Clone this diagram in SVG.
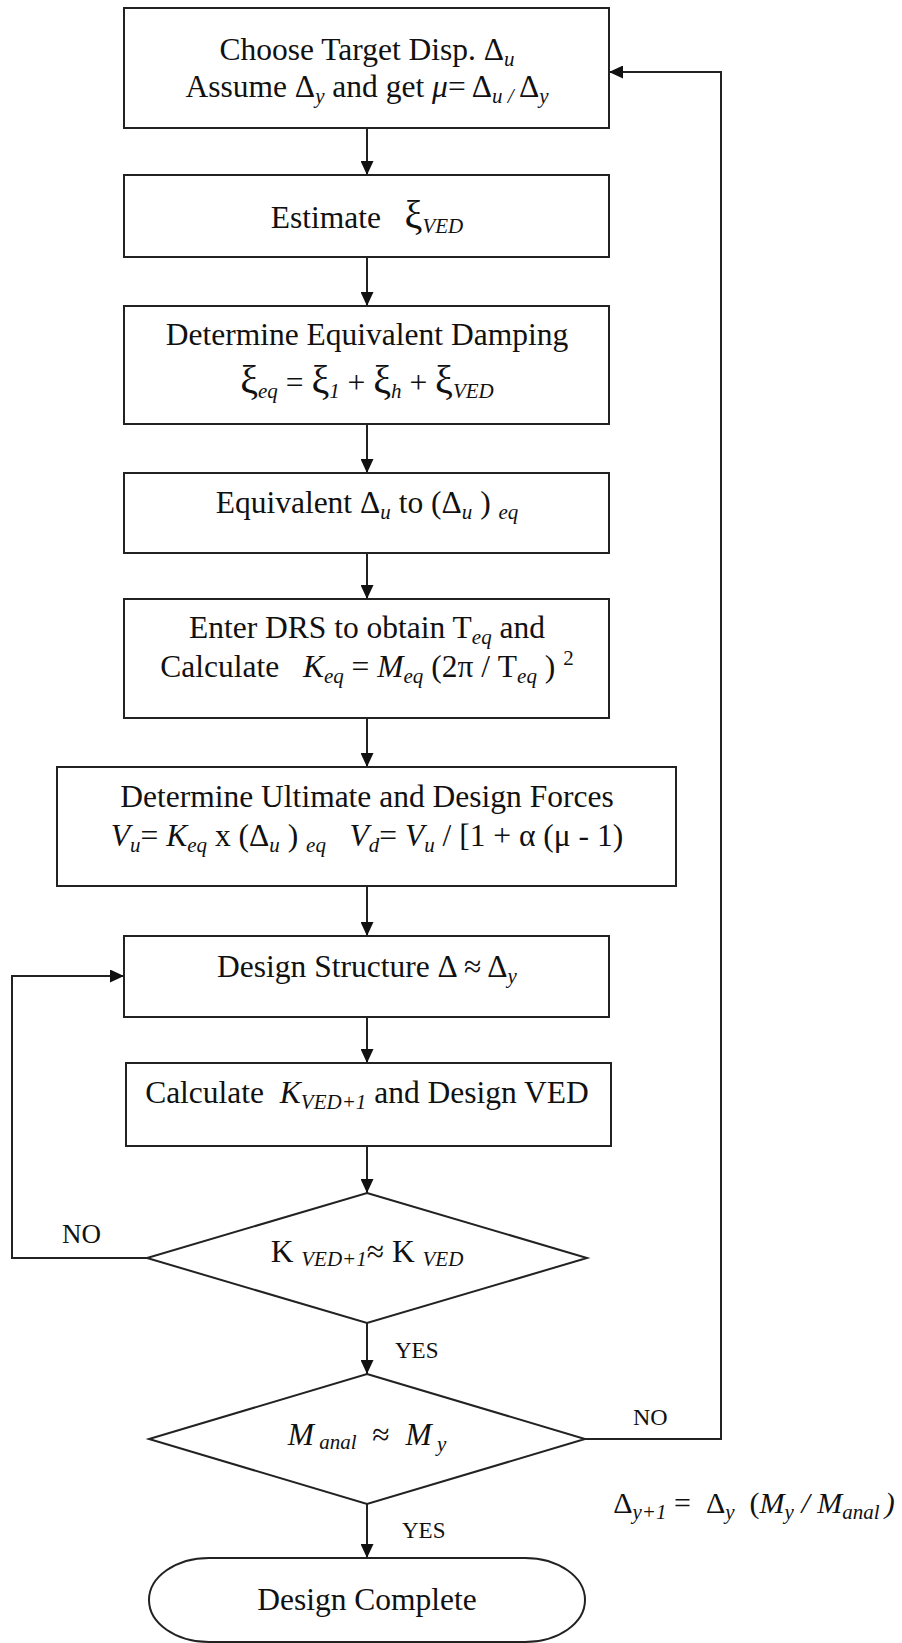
<svg xmlns="http://www.w3.org/2000/svg" width="902" height="1643" viewBox="0 0 902 1643">
<defs>
<style>
.box{fill:#fff;stroke:#222;stroke-width:2}
.t{font-family:"Liberation Serif","Times New Roman",serif;font-size:31.5px;fill:#111;text-anchor:middle}
.s{font-size:21px;font-style:italic}
.i{font-style:italic}
.x{font-size:40px}
.lbl{font-family:"Liberation Serif","Times New Roman",serif;font-size:23px;fill:#111}
.c{fill:none;stroke:#222;stroke-width:2}
</style>
<marker id="ah" viewBox="0 0 14 13" refX="14" refY="6.5" markerWidth="14" markerHeight="13" markerUnits="userSpaceOnUse" orient="auto"><path d="M0,0 L14,6.5 L0,13 z" fill="#111"/></marker>
</defs>
<rect width="902" height="1643" fill="#fff"/>
<g id="connectors">
<path class="c" marker-end="url(#ah)" d="M367,128 V175"/>
<path class="c" marker-end="url(#ah)" d="M367,257 V306"/>
<path class="c" marker-end="url(#ah)" d="M367,424 V473"/>
<path class="c" marker-end="url(#ah)" d="M367,553 V599"/>
<path class="c" marker-end="url(#ah)" d="M367,718 V767"/>
<path class="c" marker-end="url(#ah)" d="M367,886 V936"/>
<path class="c" marker-end="url(#ah)" d="M367,1017 V1063"/>
<path class="c" marker-end="url(#ah)" d="M367,1146 V1193"/>
<path class="c" marker-end="url(#ah)" d="M367,1323 V1374"/>
<path class="c" marker-end="url(#ah)" d="M367,1504 V1558"/>
<path class="c" marker-end="url(#ah)" d="M147,1258 H12 V976 H124"/>
<path class="c" marker-end="url(#ah)" d="M585,1439 H721 V72 H609"/>
<text class="lbl" x="62" y="1243" style="font-size:27px">NO</text>
<text class="lbl" x="395" y="1358">YES</text>
<text class="lbl" x="633" y="1425" style="font-size:24px">NO</text>
<text class="lbl" x="402" y="1538">YES</text>
</g>
<g id="n1">
<rect class="box" x="124" y="8" width="485" height="120"/>
<text class="t" x="367" y="60">Choose Target Disp. Δ<tspan class="s" dy="6">u</tspan></text>
<text class="t" x="367" y="97" xml:space="preserve">Assume Δ<tspan class="s" dy="6">y</tspan><tspan dy="-6"> and get </tspan><tspan class="i">μ</tspan>= Δ<tspan class="s" dy="6">u / </tspan><tspan dy="-6">Δ</tspan><tspan class="s" dy="6">y</tspan></text>
</g>
<g id="n2">
<rect class="box" x="124" y="175" width="485" height="82"/>
<text class="t" x="367" y="228" xml:space="preserve">Estimate   <tspan class="x">ξ</tspan><tspan class="s" dy="5">VED</tspan></text>
</g>
<g id="n3">
<rect class="box" x="124" y="306" width="485" height="118"/>
<text class="t" x="367" y="345">Determine Equivalent Damping</text>
<text class="t" x="367" y="393" xml:space="preserve"><tspan class="x">ξ</tspan><tspan class="s" dy="5">eq</tspan><tspan dy="-5"> = </tspan><tspan class="x">ξ</tspan><tspan class="s" dy="5">1</tspan><tspan dy="-5"> + </tspan><tspan class="x">ξ</tspan><tspan class="s" dy="5">h</tspan><tspan dy="-5"> + </tspan><tspan class="x">ξ</tspan><tspan class="s" dy="5">VED</tspan></text>
</g>
<g id="n4">
<rect class="box" x="124" y="473" width="485" height="80"/>
<text class="t" x="367" y="513" xml:space="preserve">Equivalent Δ<tspan class="s" dy="6">u</tspan><tspan dy="-6"> to (Δ</tspan><tspan class="s" dy="6">u</tspan><tspan dy="-6"> ) </tspan><tspan class="s" dy="6">eq</tspan></text>
</g>
<g id="n5">
<rect class="box" x="124" y="599" width="485" height="119"/>
<text class="t" x="367" y="638" xml:space="preserve">Enter DRS to obtain T<tspan class="s" dy="6">eq</tspan><tspan dy="-6"> and</tspan></text>
<text class="t" x="367" y="677" xml:space="preserve">Calculate   <tspan class="i">K</tspan><tspan class="s" dy="6">eq</tspan><tspan dy="-6"> = </tspan><tspan class="i">M</tspan><tspan class="s" dy="6">eq</tspan><tspan dy="-6"> (2π / T</tspan><tspan class="s" dy="6">eq</tspan><tspan dy="-6"> ) </tspan><tspan style="font-size:21px" dy="-12">2</tspan></text>
</g>
<g id="n6">
<rect class="box" x="57" y="767" width="619" height="119"/>
<text class="t" x="367" y="807">Determine Ultimate and Design Forces</text>
<text class="t" x="367" y="846" xml:space="preserve"><tspan class="i">V</tspan><tspan class="s" dy="6">u</tspan><tspan dy="-6">= </tspan><tspan class="i">K</tspan><tspan class="s" dy="6">eq</tspan><tspan dy="-6"> x (Δ</tspan><tspan class="s" dy="6">u</tspan><tspan dy="-6"> ) </tspan><tspan class="s" dy="6">eq</tspan><tspan dy="-6">   </tspan><tspan class="i">V</tspan><tspan class="s" dy="6">d</tspan><tspan dy="-6">= </tspan><tspan class="i">V</tspan><tspan class="s" dy="6">u</tspan><tspan dy="-6"> / [1 + α (μ - 1)</tspan></text>
</g>
<g id="n7">
<rect class="box" x="124" y="936" width="485" height="81"/>
<text class="t" x="367" y="977">Design Structure Δ ≈ Δ<tspan class="s" dy="6">y</tspan></text>
</g>
<g id="n8">
<rect class="box" x="126" y="1063" width="485" height="83"/>
<text class="t" x="367" y="1103" xml:space="preserve">Calculate  <tspan class="i">K</tspan><tspan class="s" dy="6">VED+1</tspan><tspan dy="-6"> and Design VED</tspan></text>
</g>
<g id="d1">
<polygon class="box" points="367,1193 587,1258 367,1323 147,1258"/>
<text class="t" x="367" y="1262" xml:space="preserve">K <tspan class="s" dy="4">VED+1</tspan><tspan dy="-4">≈ K </tspan><tspan class="s" dy="4">VED</tspan></text>
</g>
<g id="d2">
<polygon class="box" points="367,1374 585,1439 367,1504 149,1439"/>
<text class="t" x="367" y="1445" xml:space="preserve"><tspan class="i">M</tspan><tspan class="s" dy="4"> anal</tspan><tspan dy="-4">  ≈  </tspan><tspan class="i">M</tspan><tspan class="s" dy="6"> y</tspan></text>
</g>
<g id="term">
<rect class="box" x="149" y="1558" width="436" height="84" rx="60" ry="42"/>
<text class="t" x="367" y="1610">Design Complete</text>
</g>
<g id="formula">
<text class="t" x="754" y="1513" style="font-size:30px" xml:space="preserve">Δ<tspan class="s" dy="6">y+1</tspan><tspan dy="-6"> =  Δ</tspan><tspan class="s" dy="6">y</tspan><tspan dy="-6">  (</tspan><tspan class="i">M</tspan><tspan class="s" dy="6">y</tspan><tspan dy="-6" class="i"> / M</tspan><tspan class="s" dy="6">anal </tspan><tspan dy="-6" class="i">)</tspan></text>
</g>
</svg>
